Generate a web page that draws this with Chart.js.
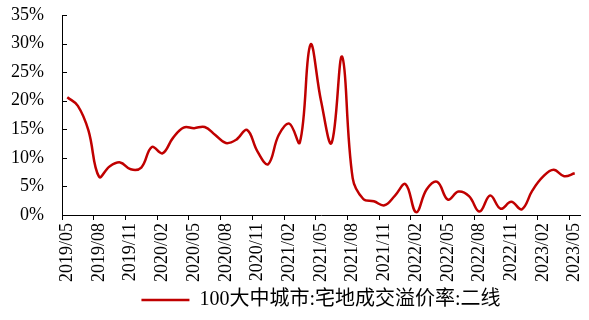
<!DOCTYPE html>
<html>
<head>
<meta charset="utf-8">
<script src="https://cdn.jsdelivr.net/npm/chart.js@4/dist/chart.umd.min.js"></script>
<style>
  body { margin: 0; background: #fff; }
</style>
</head>
<body>
<canvas id="premiumChart" width="589" height="320"></canvas>
<script>
// months, 2019/05 .. 2023/05
var months = [
    '2019/05', '2019/06', '2019/07', '2019/08', '2019/09', '2019/10', '2019/11', '2019/12',
    '2020/01', '2020/02', '2020/03', '2020/04', '2020/05', '2020/06', '2020/07', '2020/08',
    '2020/09', '2020/10', '2020/11', '2020/12', '2021/01', '2021/02', '2021/03', '2021/04',
    '2021/05', '2021/06', '2021/07', '2021/08', '2021/09', '2021/10', '2021/11', '2021/12',
    '2022/01', '2022/02', '2022/03', '2022/04', '2022/05', '2022/06', '2022/07', '2022/08',
    '2022/09', '2022/10', '2022/11', '2022/12', '2023/01', '2023/02', '2023/03', '2023/04',
    '2023/05'
];
// premium rate, %
var premium = [
    20.6, 19.1, 14.8, 6.7, 8.5, 9.2, 8.0, 8.3, 11.9, 10.8,
    13.5, 15.3, 15.2, 15.4, 14.0, 12.6, 13.2, 14.9, 11.1, 8.9,
    14.0, 16.0, 12.7, 29.8, 20.0, 12.6, 27.7, 6.4, 2.8, 2.4,
    1.7, 3.4, 5.4, 0.5, 4.5, 5.8, 2.7, 4.1, 3.3, 0.6,
    3.4, 1.1, 2.3, 1.0, 4.3, 6.7, 7.9, 6.8, 7.3
];
var seriesName = '100大中城市:宅地成交溢价率:二线';
var yTicks = [0, 5, 10, 15, 20, 25, 30, 35];

var fontFamily = '"Liberation Serif", "Times New Roman", "Noto Sans CJK SC", serif';

// y axis ticks point inward in the original
var innerTicks = {
    id: 'innerTicks',
    beforeDatasetsDraw: function (chart) {
        var y = chart.scales.y;
        var ctx = chart.ctx;
        var left = chart.chartArea.left;
        ctx.save();
        ctx.strokeStyle = '#000';
        ctx.lineWidth = 1;
        y.ticks.forEach(function (t) {
            var py = Math.round(y.getPixelForValue(t.value)) + 0.5;
            ctx.beginPath();
            ctx.moveTo(left, py);
            ctx.lineTo(left + 5, py);
            ctx.stroke();
        });
        ctx.restore();
    }
};

var ctx = document.getElementById('premiumChart').getContext('2d');
var chart = new Chart(ctx, {
    type: 'line',
    data: {
        labels: months,
        datasets: [{
            label: seriesName,
            data: premium,
            borderColor: '#C00000',
            backgroundColor: '#C00000',
            borderWidth: 2.5,
            pointRadius: 0,
            tension: 0.4,
            fill: false
        }]
    },
    options: {
        responsive: false,
        animation: false,
        layout: {
            padding: { left: 0, right: 9, top: 15, bottom: 0 }
        },
        plugins: {
            legend: {
                position: 'bottom',
                fullSize: false,
                labels: {
                    usePointStyle: true,
                    pointStyle: 'line',
                    pointStyleWidth: 48,
                    color: '#000',
                    padding: 8,
                    font: { family: fontFamily, size: 20 }
                }
            },
            tooltip: { enabled: false }
        },
        scales: {
            x: {
                offset: true,
                afterFit: function (scale) {
                    scale.height = 67;
                    scale.paddingLeft = 0;
                    scale.paddingRight = 0;
                },
                border: { color: '#000', width: 1 },
                grid: {
                    offset: true,
                    drawOnChartArea: false,
                    drawTicks: true,
                    tickLength: 5,
                    color: function (c) { return c.index % 3 === 0 ? '#000' : 'rgba(0,0,0,0)'; }
                },
                ticks: {
                    autoSkip: false,
                    minRotation: 90,
                    maxRotation: 90,
                    padding: 3,
                    color: '#000',
                    font: { family: fontFamily, size: 18 },
                    callback: function (value, index) {
                        return index % 3 === 0 ? months[index] : '';
                    }
                }
            },
            y: {
                min: yTicks[0],
                max: yTicks[yTicks.length - 1],
                afterFit: function (scale) {
                    scale.width = 62;
                    scale.paddingTop = 0;
                    scale.paddingBottom = 0;
                },
                border: { color: '#000', width: 1 },
                grid: { display: false, drawTicks: false },
                ticks: {
                    stepSize: 5,
                    padding: 18,
                    color: '#000',
                    font: { family: fontFamily, size: 18 },
                    callback: function (value) { return value + '%'; }
                }
            }
        }
    },
    plugins: [innerTicks]
});
</script>
</body>
</html>
